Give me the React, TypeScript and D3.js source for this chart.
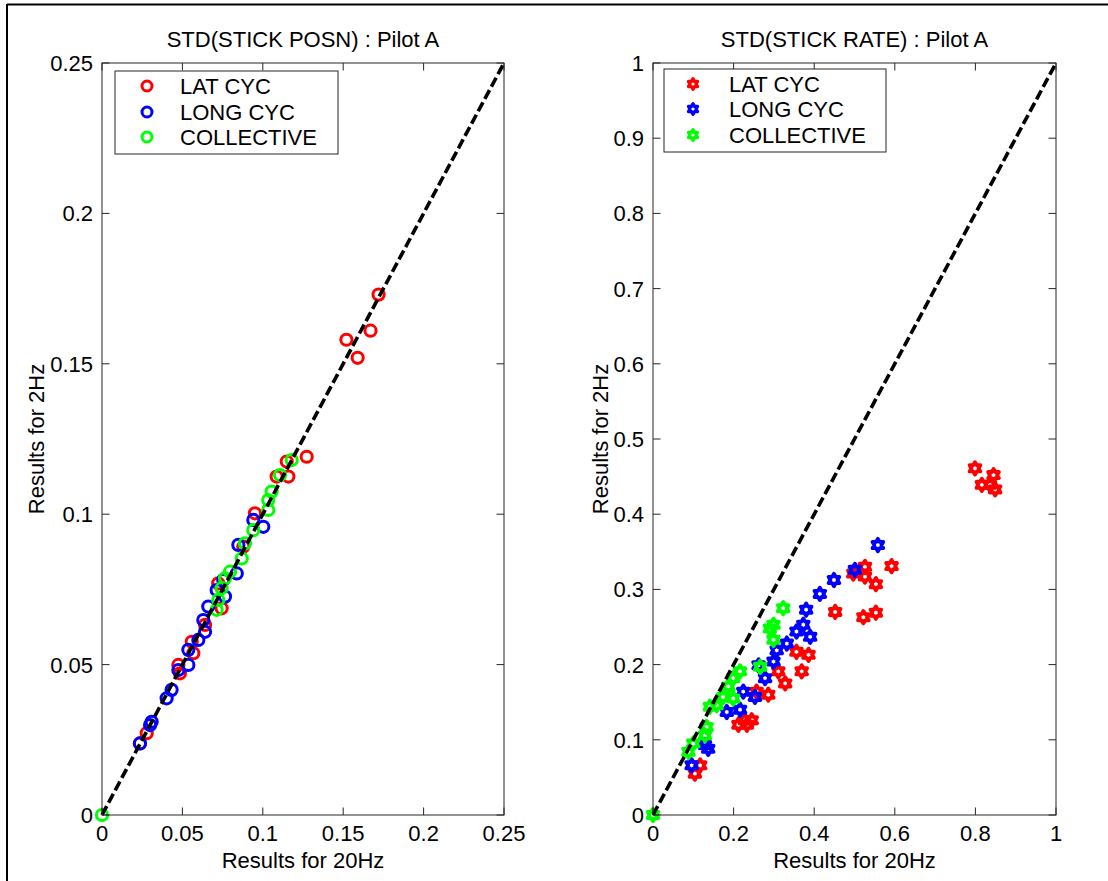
import React from "react";
import * as d3 from "d3";

const W = 1108;
const H = 881;

const seriesNames = ["LAT CYC", "LONG CYC", "COLLECTIVE"];
const seriesColors = ["#ff0000", "#0000ff", "#00ff00"];

// Left panel: STD(STICK POSN) [x = 20Hz, y = 2Hz]
const posnLatX = [0.172, 0.152, 0.159, 0.167, 0.1273, 0.1149, 0.1159, 0.1086, 0.0951, 0.0879, 0.0723, 0.0744, 0.0641, 0.0558, 0.0568, 0.0475, 0.0485, 0.0278, 0.0236];
const posnLatY = [0.173, 0.158, 0.152, 0.161, 0.1191, 0.1175, 0.1125, 0.1125, 0.1003, 0.0892, 0.077, 0.0687, 0.0632, 0.0576, 0.0538, 0.0499, 0.0471, 0.0272, 0.0238];
const posnLongX = [0.0941, 0.1003, 0.0848, 0.0838, 0.0754, 0.0713, 0.0765, 0.0661, 0.063, 0.0641, 0.0599, 0.0537, 0.0537, 0.0475, 0.0433, 0.0402, 0.0309, 0.0299, 0.0236];
const posnLongY = [0.0981, 0.0958, 0.0898, 0.0803, 0.0781, 0.0748, 0.0726, 0.0693, 0.0648, 0.0609, 0.0582, 0.0549, 0.0499, 0.0482, 0.0416, 0.0388, 0.031, 0.0299, 0.0238];
const posnCollX = [0.118, 0.1107, 0.1055, 0.1034, 0.1034, 0.0941, 0.0889, 0.0869, 0.0796, 0.0765, 0.0744, 0.0723, 0.0713, 0.0];
const posnCollY = [0.118, 0.113, 0.1075, 0.1047, 0.1014, 0.0947, 0.0903, 0.0853, 0.0809, 0.0787, 0.0754, 0.0715, 0.0682, 0.0];

// Right panel: STD(STICK RATE)
const rateLatX = [0.799, 0.845, 0.816, 0.836, 0.849, 0.526, 0.592, 0.497, 0.526, 0.553, 0.452, 0.522, 0.553, 0.356, 0.386, 0.369, 0.311, 0.328, 0.286, 0.257, 0.228, 0.212, 0.245, 0.233, 0.117, 0.104];
const rateLatY = [0.461, 0.452, 0.439, 0.439, 0.433, 0.33, 0.331, 0.321, 0.317, 0.307, 0.27, 0.263, 0.269, 0.217, 0.213, 0.191, 0.191, 0.175, 0.16, 0.164, 0.126, 0.12, 0.126, 0.12, 0.066, 0.055];
const rateLongX = [0.558, 0.501, 0.449, 0.414, 0.38, 0.373, 0.356, 0.39, 0.332, 0.307, 0.299, 0.262, 0.278, 0.224, 0.253, 0.183, 0.216, 0.129, 0.137, 0.096];
const rateLongY = [0.359, 0.326, 0.3125, 0.294, 0.273, 0.253, 0.244, 0.237, 0.228, 0.219, 0.204, 0.199, 0.182, 0.164, 0.157, 0.137, 0.14, 0.093, 0.088, 0.066];
const rateCollX = [0.323, 0.299, 0.29, 0.299, 0.266, 0.216, 0.199, 0.187, 0.174, 0.199, 0.158, 0.141, 0.133, 0.129, 0.1, 0.088, 0.0];
const rateCollY = [0.275, 0.253, 0.248, 0.233, 0.197, 0.191, 0.182, 0.171, 0.157, 0.155, 0.146, 0.144, 0.117, 0.106, 0.095, 0.084, 0.0];

const posnTicks = [0, 0.05, 0.1, 0.15, 0.2, 0.25];
const rateXTicks = [0, 0.2, 0.4, 0.6, 0.8, 1];
const rateYTicks = [0, 0.1, 0.2, 0.3, 0.4, 0.5, 0.6, 0.7, 0.8, 0.9, 1];

const FONT = "Arial, 'Liberation Sans', Helvetica, sans-serif";
const FS = 22;

function hexagramPath(R: number) {
  const r = R / Math.sqrt(3);
  const pts: string[] = [];
  for (let i = 0; i < 12; i++) {
    const a = -Math.PI / 2 + (i * Math.PI) / 6;
    const rr = i % 2 === 0 ? R : r;
    pts.push(`${(rr * Math.cos(a)).toFixed(2)},${(rr * Math.sin(a)).toFixed(2)}`);
  }
  return "M" + pts.join("L") + "Z";
}

type Panel = {
  left: number;
  right: number;
  top: number;
  bottom: number;
  max: number;
  xTicks: number[];
  yTicks: number[];
  title: string;
  ylabOffset: number;
  series: { xs: number[]; ys: number[] }[];
  marker: "circle" | "hexagram";
  legend: { x: number; y: number; w: number; h: number; mx: number; tx: number; rows: number[] };
};

const fmt = (v: number) => (v === 0 ? "0" : String(+v.toFixed(3)));

function PanelView({ p }: { p: Panel }) {
  const x = d3.scaleLinear().domain([0, p.max]).range([p.left, p.right]);
  const y = d3.scaleLinear().domain([0, p.max]).range([p.bottom, p.top]);
  const tl = 7.5;
  const axisColor = "#262626";
  const hex = hexagramPath(6.2);
  const line = d3.line<number>().x((d) => x(d)).y((d) => y(d));
  const cx = (p.left + p.right) / 2;
  const cy = (p.top + p.bottom) / 2;
  return (
    <g>
      <rect x={p.left} y={p.top} width={p.right - p.left} height={p.bottom - p.top} fill="#fff" />
      {p.series.map((s, si) =>
        s.xs.map((xv, i) =>
          p.marker === "circle" ? (
            <circle key={`${si}-${i}`} cx={x(xv)} cy={y(s.ys[i])} r={5.6} fill="none" stroke={seriesColors[si]} strokeWidth={3} />
          ) : (
            <path key={`${si}-${i}`} d={hex} transform={`translate(${x(xv)},${y(s.ys[i])})`} fill="none" stroke={seriesColors[si]} strokeWidth={3.8} strokeLinejoin="round" />
          )
        )
      )}
      <path d={line([0, p.max]) || ""} fill="none" stroke="#000" strokeWidth={3.6} strokeDasharray="10,4" />
      <rect x={p.left} y={p.top} width={p.right - p.left} height={p.bottom - p.top} fill="none" stroke={axisColor} strokeWidth={1} />
      {p.xTicks.map((t) => (
        <g key={`xt${t}`}>
          <line x1={x(t)} x2={x(t)} y1={p.bottom} y2={p.bottom - tl} stroke={axisColor} />
          <line x1={x(t)} x2={x(t)} y1={p.top} y2={p.top + tl} stroke={axisColor} />
          <text x={x(t)} y={p.bottom + 26} textAnchor="middle" fontFamily={FONT} fontSize={FS} fill="#000">
            {fmt(t)}
          </text>
        </g>
      ))}
      {p.yTicks.map((t) => (
        <g key={`yt${t}`}>
          <line x1={p.left} x2={p.left + tl} y1={y(t)} y2={y(t)} stroke={axisColor} />
          <line x1={p.right} x2={p.right - tl} y1={y(t)} y2={y(t)} stroke={axisColor} />
          <text x={p.left - 9} y={y(t) + 8} textAnchor="end" fontFamily={FONT} fontSize={FS} fill="#000">
            {fmt(t)}
          </text>
        </g>
      ))}
      <text x={cx} y={p.top - 16} textAnchor="middle" fontFamily={FONT} fontSize={FS} fill="#000">
        {p.title}
      </text>
      <text x={cx} y={p.bottom + 53} textAnchor="middle" fontFamily={FONT} fontSize={FS} fill="#000">
        Results for 20Hz
      </text>
      <text transform={`translate(${p.left - p.ylabOffset},${cy}) rotate(-90)`} textAnchor="middle" fontFamily={FONT} fontSize={FS} fill="#000">
        Results for 2Hz
      </text>
      <rect x={p.legend.x} y={p.legend.y} width={p.legend.w} height={p.legend.h} fill="#fff" stroke={axisColor} strokeWidth={1} />
      {seriesNames.map((n, i) => (
        <g key={n}>
          {p.marker === "circle" ? (
            <circle cx={p.legend.mx} cy={p.legend.rows[i]} r={5} fill="none" stroke={seriesColors[i]} strokeWidth={3} />
          ) : (
            <path d={hexagramPath(5.2)} transform={`translate(${p.legend.mx},${p.legend.rows[i]})`} fill="none" stroke={seriesColors[i]} strokeWidth={3.4} strokeLinejoin="round" />
          )}
          <text x={p.legend.tx} y={p.legend.rows[i] + 8} fontFamily={FONT} fontSize={FS} fill="#000">
            {n}
          </text>
        </g>
      ))}
    </g>
  );
}

export default function App() {
  const left: Panel = {
    left: 102,
    right: 504,
    top: 63,
    bottom: 815,
    max: 0.25,
    xTicks: posnTicks,
    yTicks: posnTicks,
    title: "STD(STICK POSN) : Pilot A",
    ylabOffset: 58,
    series: [
      { xs: posnLatX, ys: posnLatY },
      { xs: posnLongX, ys: posnLongY },
      { xs: posnCollX, ys: posnCollY },
    ],
    marker: "circle",
    legend: { x: 115, y: 71, w: 223, h: 83, mx: 147, tx: 180, rows: [86, 112, 137] },
  };
  const right: Panel = {
    left: 653,
    right: 1056,
    top: 63,
    bottom: 815,
    max: 1,
    xTicks: rateXTicks,
    yTicks: rateYTicks,
    title: "STD(STICK RATE) : Pilot A",
    ylabOffset: 45,
    series: [
      { xs: rateLatX, ys: rateLatY },
      { xs: rateLongX, ys: rateLongY },
      { xs: rateCollX, ys: rateCollY },
    ],
    marker: "hexagram",
    legend: { x: 664, y: 69, w: 222, h: 83, mx: 693, tx: 729, rows: [84, 109, 135] },
  };
  return (
    <svg width={W} height={H} style={{ position: "absolute", left: 0, top: 0, background: "#fff" }}>
      <rect x={0} y={0} width={W} height={H} fill="#fff" />
      <line x1={7} y1={4.5} x2={W} y2={4.5} stroke="#000" strokeWidth={2} />
      <line x1={7} y1={4} x2={7} y2={H} stroke="#000" strokeWidth={2} />
      <PanelView p={left} />
      <PanelView p={right} />
    </svg>
  );
}
